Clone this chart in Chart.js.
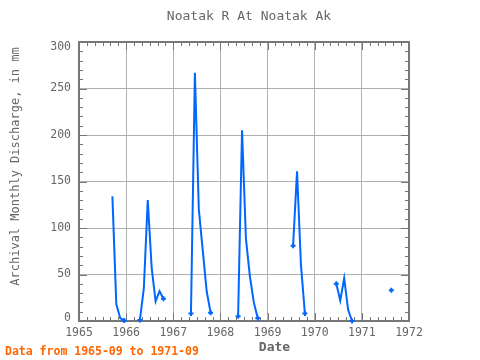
<!DOCTYPE html>
<html><head><meta charset="utf-8">
<script src="https://cdn.jsdelivr.net/npm/chart.js@4/dist/chart.umd.min.js"></script>
<style>html,body{margin:0;padding:0;background:#fff}</style>
</head><body>
<canvas id="c" width="480" height="360"></canvas>
<script>
const chartTitle = 'Noatak R At Noatak Ak';
const yAxisTitle = 'Archival Monthly Discharge, in mm';
const xAxisTitle = 'Date';
const footerText = 'Data from 1965-09 to 1971-09';

const months = [
  '1965-09','1965-10','1965-11','1965-12',
  '1966-04','1966-05','1966-06','1966-07','1966-08','1966-09','1966-10',
  '1967-05','1967-06','1967-07','1967-08','1967-09','1967-10',
  '1968-05','1968-06','1968-07','1968-08','1968-09','1968-10',
  '1969-07','1969-08','1969-09','1969-10',
  '1970-06','1970-07','1970-08','1970-09','1970-10',
  '1971-08'
];
const discharge = [
  134, 18, 3, 0.5,
  1, 35, 130, 57, 21, 32, 24,
  8, 267, 120, 76, 32, 9,
  5, 205, 88, 48, 20, 3,
  81, 161, 60, 8,
  40, 22, 46, 12, 0,
  33
];
const yearTicks = [1965, 1966, 1967, 1968, 1969, 1970, 1971, 1972];
const valueTicks = [0, 50, 100, 150, 200, 250, 300];

function monthIndex(s) { const [y, m] = s.split('-').map(Number); return y * 12 + (m - 1); }
const points = [];
months.forEach((s, i) => {
  if (i > 0 && monthIndex(s) - monthIndex(months[i - 1]) > 1) {
    points.push({ x: (monthIndex(s) + monthIndex(months[i - 1])) / 24 + 0.5 / 12, y: null });
  }
  points.push({ x: (monthIndex(s) + 0.5) / 12, y: discharge[i] });
});

const MONO = "'DejaVu Sans Mono', 'Liberation Mono', monospace";
const GREY = '#666666';

const framePlugin = {
  id: 'frame',
  afterLayout(chart) {
    if (chart.titleBlock) { chart.titleBlock.left = 89; }
    const xs = chart.scales.x, ys = chart.scales.y;
    xs.left += 30.5; xs.right += 30.5;
    ys.top -= 15; ys.bottom -= 15;
    if (!ys._nudged) {
      const orig = ys._computeLabelItems;
      ys._computeLabelItems = function (ca) {
        const items = orig.call(this, ca);
        items.forEach((it, i) => {
          const v = this.ticks[i] && this.ticks[i].value;
          if (v === 300) it.options.translation[1] += 5.5;
          if (v === 0) it.options.translation[1] -= 2.5;
        });
        return items;
      };
      ys._nudged = true;
    }
  },
  beforeDatasetsDraw(chart) {
    const { ctx, chartArea: a, scales: { x: xs, y: ys } } = chart;
    ctx.save();
    ctx.strokeStyle = '#777777';
    ctx.lineWidth = 1;
    ctx.beginPath();
    for (let v = 0; v <= 300; v += 10) {
      const y = Math.round(ys.getPixelForValue(v)) + 0.5;
      const len = v % 50 === 0 ? 8 : 4;
      ctx.moveTo(a.left, y); ctx.lineTo(a.left + len, y);
      ctx.moveTo(a.right, y); ctx.lineTo(a.right - len, y);
    }
    for (let k = 0; k <= 42; k++) {
      const x = Math.round(xs.getPixelForValue(1965 + k / 6)) + 0.5;
      const len = k % 6 === 0 ? 8 : 4;
      ctx.moveTo(x, a.bottom); ctx.lineTo(x, a.bottom - len);
      ctx.moveTo(x, a.top); ctx.lineTo(x, a.top + len);
    }
    ctx.stroke();
    ctx.lineWidth = 2;
    ctx.strokeRect(a.left, a.top, a.right - a.left, a.bottom - a.top);
    ctx.restore();
  },
  afterDraw(chart) {
    const ctx = chart.ctx;
    ctx.save();
    ctx.font = 'bold 11.5px ' + MONO;
    ctx.fillStyle = '#ff6600';
    ctx.textAlign = 'left';
    ctx.textBaseline = 'middle';
    ctx.fillText(footerText, 5, 352);
    ctx.restore();
  }
};

function endPoint(ctx) {
  const d = ctx.dataset.data, i = ctx.dataIndex;
  if (!d[i] || d[i].y == null) return 0;
  const p = d[i - 1], n = d[i + 1];
  return ((p && p.y == null) || (n && n.y == null) || (!n && p && p.y == null)) ? 2.5 : 0;
}

new Chart(document.getElementById('c'), {
  type: 'line',
  data: {
    datasets: [{
      data: points,
      borderColor: '#0066ff',
      backgroundColor: '#0066ff',
      borderWidth: 2,
      pointStyle: 'cross',
      pointRadius: endPoint,
      pointHoverRadius: endPoint,
      pointBorderWidth: 2,
      pointBorderColor: '#0066ff',
      spanGaps: false,
      tension: 0,
      clip: false
    }]
  },
  options: {
    responsive: false,
    devicePixelRatio: 1,
    animation: false,
    layout: { padding: { left: 0, right: 71, top: 0, bottom: 0 } },
    plugins: {
      legend: { display: false },
      tooltip: { enabled: false },
      title: {
        display: true, text: chartTitle, color: GREY,
        font: { family: MONO, size: 13, weight: 'normal' },
        padding: { top: 9, bottom: 17.4 }
      }
    },
    scales: {
      x: {
        type: 'linear', min: 1965, max: 1972,
        afterBuildTicks: s => { s.ticks = yearTicks.map(v => ({ value: v })); },
        afterFit: s => { s.height = 39; },
        ticks: { callback: v => String(v), color: GREY, font: { family: MONO, size: 11.5 }, padding: 5, maxRotation: 0, autoSkip: false },
        grid: { color: '#b0b0b0', lineWidth: 1, drawTicks: false },
        border: { display: false },
        title: { display: true, text: xAxisTitle, color: GREY, font: { family: MONO, size: 13, weight: 'bold' }, padding: { top: 0, bottom: 4.5 } }
      },
      y: {
        type: 'linear', min: 0, max: 300,
        afterBuildTicks: s => { s.ticks = valueTicks.map(v => ({ value: v })); },
        afterFit: s => { s.width = 79; },
        ticks: { callback: v => String(v), color: GREY, font: { family: MONO, size: 11.5 }, padding: 8 },
        grid: { color: '#b0b0b0', lineWidth: 1, drawTicks: false },
        border: { display: false },
        title: { display: true, text: yAxisTitle, color: GREY, font: { family: MONO, size: 12, weight: 'normal' }, padding: { top: 8.8, bottom: 0 } }
      }
    }
  },
  plugins: [framePlugin]
});
</script>
</body></html>
